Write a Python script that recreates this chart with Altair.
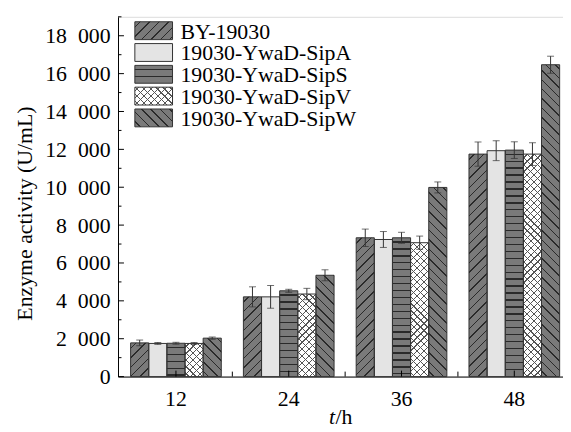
import altair as alt

# ---------------- data ----------------
times = ["12", "24", "36", "48"]
series = ["BY-19030", "19030-YwaD-SipA", "19030-YwaD-SipS",
          "19030-YwaD-SipV", "19030-YwaD-SipW"]
by_19030 = [1780, 4210, 7330, 11750]
sip_a = [1750, 4210, 7240, 11930]
sip_s = [1760, 4530, 7330, 11960]
sip_v = [1750, 4360, 7070, 11750]
sip_w = [2030, 5350, 9990, 16470]
err_by = [150, 530, 460, 640]
err_a = [50, 600, 420, 525]
err_s = [50, 80, 290, 440]
err_v = [50, 300, 350, 600]
err_w = [60, 290, 290, 450]
y_major = [0, 2000, 4000, 6000, 8000, 10000, 12000, 14000, 16000, 18000]
y_minor = [1000, 3000, 5000, 7000, 9000, 11000, 13000, 15000, 17000, 19000]
y_max = 19000

values = [by_19030, sip_a, sip_s, sip_v, sip_w]
errors = [err_by, err_a, err_s, err_v, err_w]

# ---------------- layout / style ----------------
PLOT_W, PLOT_H = 449, 363
PAD_IN, PAD_OUT, ALIGN = 0.196, 0.0707, 0.79
step = PLOT_W / (len(times) - PAD_IN + 2 * PAD_OUT)
bar_w = step * (1 - PAD_IN) / len(series)
px_per = PLOT_H / y_max
FONT = "Liberation Serif"
GRAY = "#7a7a7a"
LINE = "#2a2a2a"
T = "rgba(0,0,0,0)"

styles = {
    series[0]: (GRAY, [("/", 9.5, 1.5, LINE)]),
    series[1]: ("#e4e4e4", []),
    series[2]: (GRAY, [("-", 7.0, 1.4, LINE)]),
    series[3]: ("#ffffff", [("/", 7.0, 1.2, "#555555"), ("\\", 7.0, 1.2, "#555555")]),
    series[4]: (GRAY, [("\\", 9.5, 1.5, LINE)]),
}


def stripes(kind, w, h, period, lw, color):
    if kind == "-":
        L = h
        x1, y1, x2, y2 = 0, 0, 1e-6, 1
    else:
        L = w + h
        k = (w + h) / (w * w + h * h)
        if kind == "/":
            x1, y1, x2, y2 = 0, 0, w * k, h * k
        else:
            x1, y1, x2, y2 = 0, 1, w * k, 1 - h * k
            if abs(y2) < 1e-6:
                y2 = 1e-6
    stops = [{"offset": 0, "color": T}]
    pos = period / 2
    while pos < L:
        a = pos / L
        b = min((pos + lw) / L, 1)
        stops += [{"offset": a, "color": T}, {"offset": a, "color": color},
                  {"offset": b, "color": color}, {"offset": b, "color": T}]
        pos += period
    stops.append({"offset": 1, "color": T})
    return {"gradient": "linear", "x1": x1, "y1": y1, "x2": x2, "y2": y2,
            "stops": stops}


rows = []
for i, s in enumerate(series):
    base, hatches = styles[s]
    for j, t in enumerate(times):
        v = values[i][j]
        e = errors[i][j]
        h = max(v * px_per, 1)
        hs = [stripes(kd, bar_w, h, p, lw, c) for (kd, p, lw, c) in hatches]
        while len(hs) < 2:
            hs.append("transparent")
        rows.append({"time": t, "series": s, "value": v, "lo": v - e,
                     "hi": v + e, "base": base, "h1": hs[0], "h2": hs[1]})

data = alt.Data(values=rows)

xscale = alt.Scale(domain=times, paddingInner=PAD_IN, paddingOuter=PAD_OUT, align=ALIGN)
yscale = alt.Scale(domain=[0, y_max], nice=False, zero=True)
offscale = alt.Scale(domain=series, paddingInner=0, paddingOuter=0)

x_axis = alt.Axis(title=None, ticks=False, labelAngle=0, labelFont=FONT,
                  labelFontSize=22, labelColor="black", labelPadding=12,
                  domainColor="black", domainWidth=1, grid=False)
y_axis = alt.Axis(values=y_major, ticks=False, grid=False,
                  labelExpr="replace(format(datum.value, ','), ',', '\u2002')",
                  labelFont=FONT, labelFontSize=22, labelColor="black",
                  labelPadding=8, domainColor="black", domainWidth=1,
                  title="Enzyme activity (U/mL)", titleFont=FONT,
                  titleFontSize=22, titleFontWeight="normal",
                  titleColor="black", titleX=-94, titleY=198,
                  titleAngle=270, titleAlign="center",
                  titleBaseline="middle")


def X(**kw):
    return alt.X("time:N", scale=xscale, sort=times, axis=x_axis, **kw)


def Y(field):
    return alt.Y(field, scale=yscale, axis=y_axis)


xo = alt.XOffset("series:N", scale=offscale, sort=series)

base = alt.Chart(data).mark_bar(strokeWidth=0).encode(
    x=X(), xOffset=xo, y=Y("value:Q"), fill=alt.Fill("base:N", scale=None))
hatch1 = alt.Chart(data).mark_bar(strokeWidth=0).encode(
    x=X(), xOffset=xo, y=Y("value:Q"), fill=alt.Fill("h1:N", scale=None))
hatch2 = alt.Chart(data).mark_bar(strokeWidth=0).encode(
    x=X(), xOffset=xo, y=Y("value:Q"), fill=alt.Fill("h2:N", scale=None))
outline = alt.Chart(data).mark_bar(fill="transparent", stroke="#333333", strokeWidth=1).encode(
    x=X(), xOffset=xo, y=Y("value:Q"))

err_rule = alt.Chart(data).mark_rule(color="#333333", strokeWidth=1).encode(
    x=X(), xOffset=xo, y=Y("lo:Q"), y2="hi:Q")
cap_lo = alt.Chart(data).mark_tick(color="#333333", size=7, thickness=1, orient="horizontal").encode(
    x=X(), xOffset=xo, y=Y("lo:Q"))
cap_hi = alt.Chart(data).mark_tick(color="#333333", size=7, thickness=1, orient="horizontal").encode(
    x=X(), xOffset=xo, y=Y("hi:Q"))

ymaj = alt.Chart(alt.Data(values=[{"v": v} for v in y_major])).mark_rule(
    color="black", strokeWidth=1).encode(
    x=alt.value(0), x2=alt.value(6), y=Y("v:Q"))
ymin = alt.Chart(alt.Data(values=[{"v": v} for v in y_minor])).mark_rule(
    color="black", strokeWidth=1).encode(
    x=alt.value(0), x2=alt.value(3.5), y=Y("v:Q"))

xmaj = alt.Chart(alt.Data(values=[{"time": t} for t in times])).mark_rule(
    color="black", strokeWidth=1).encode(
    x=X(bandPosition=0.5), y=alt.value(PLOT_H), y2=alt.value(PLOT_H - 6))
xmin = alt.Chart(alt.Data(values=[{"time": t} for t in times[:-1]])).mark_rule(
    color="black", strokeWidth=1, xOffset=step * PAD_IN / 2).encode(
    x=X(bandPosition=1), y=alt.value(PLOT_H), y2=alt.value(PLOT_H - 5))

# ---------------- legend ----------------
LEG_X0, LEG_X1, LEG_W, LEG_H = 17, 55, 38, 18
LEG_TOP, LEG_GAP = 5, 22
legend_layers = []
for i, s in enumerate(series):
    fill_c, hatches = styles[s]
    top = LEG_TOP + i * LEG_GAP
    one = alt.Data(values=[{"label": s}])
    enc = dict(x=alt.value(LEG_X0), x2=alt.value(LEG_X1),
               y=alt.value(top), y2=alt.value(top + LEG_H))
    legend_layers.append(alt.Chart(one).mark_rect(fill=fill_c, strokeWidth=0).encode(**enc))
    for (kd, p, lw, c) in hatches:
        g = stripes(kd, LEG_W, LEG_H, p, lw, c)
        legend_layers.append(alt.Chart(one).mark_rect(fill=g, strokeWidth=0).encode(**enc))
    legend_layers.append(alt.Chart(one).mark_rect(
        fill="transparent", stroke="#333333", strokeWidth=1).encode(**enc))
    legend_layers.append(alt.Chart(one).mark_text(
        font=FONT, fontSize=22, color="black", align="left", baseline="middle").encode(
        x=alt.value(LEG_X1 + 8), y=alt.value(top + LEG_H / 2 + 1), text=alt.Text("label:N")))

# ---------------- x title "t/h" ----------------
xt = alt.Data(values=[{"a": "t", "b": "/h"}])
title_t = alt.Chart(xt).mark_text(font=FONT, fontSize=22, fontStyle="italic", color="black",
                                  align="left", baseline="alphabetic").encode(
    x=alt.value(213), y=alt.value(411), text=alt.Text("a:N"))
title_h = alt.Chart(xt).mark_text(font=FONT, fontSize=22, color="black",
                                  align="left", baseline="alphabetic").encode(
    x=alt.value(219.5), y=alt.value(411), text=alt.Text("b:N"))

chart = alt.layer(
    base, hatch1, hatch2, outline, err_rule, cap_lo, cap_hi,
    ymaj, ymin, xmaj, xmin, *legend_layers, title_t, title_h
).properties(
    width=PLOT_W, height=PLOT_H,
    autosize=alt.AutoSizeParams(type="none"),
    padding={"left": 111, "top": 7, "right": 0, "bottom": 52},
).configure_view(stroke=None).configure(background="white")

chart.save("out.html", embed_options={"renderer": "svg", "actions": False})
